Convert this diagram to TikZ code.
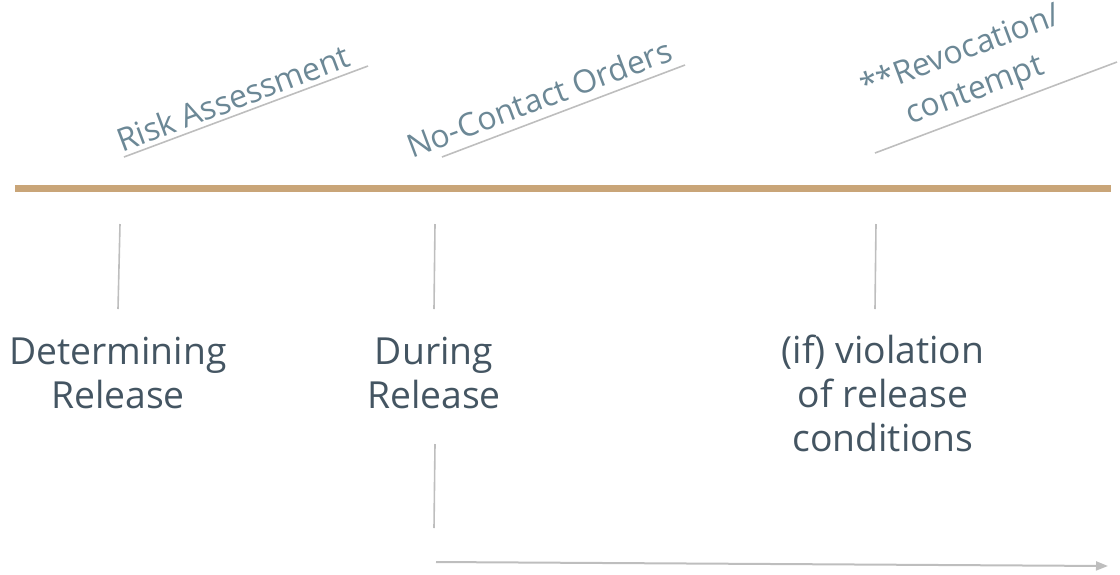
\documentclass[tikz,border=0pt]{standalone}
\usepackage{fontspec}
\setmainfont{Open Sans}
\usetikzlibrary{arrows.meta}
\definecolor{bartan}{RGB}{201,165,120}
\definecolor{maintext}{RGB}{68,85,98}
\definecolor{labeltext}{RGB}{108,136,150}
\definecolor{tick}{RGB}{190,190,190}
\tikzset{
  stagetext/.style={align=center,inner sep=0pt,anchor=base,text=maintext,font=\fontsize{37.3}{44}\selectfont},
  slanttext/.style={align=center,inner sep=0pt,anchor=center,text=labeltext,rotate=20.6,font=\fontsize{32}{41}\selectfont},
  tickline/.style={draw=tick,line width=1.6pt},
  underline/.style={draw=tick,line width=1.6pt},
  timebar/.style={draw=bartan,line width=7pt},
  flowarrow/.style={draw=tick,line width=2pt,-{Triangle[length=12pt,width=9pt]}}
}
\begin{document}
\begin{tikzpicture}[x=1pt,y=-1pt]
\useasboundingbox (0,0) rectangle (1120,574);
% timeline bar
\coordinate (barL) at (15,188.5);
\coordinate (barR) at (1111,188.5);
\draw[timebar] (barL) -- (barR);
% slanted labels with underlines
\coordinate (u1a) at (124,157); \coordinate (u1b) at (368,66);
\coordinate (u2a) at (442,157); \coordinate (u2b) at (685,65);
\coordinate (u3a) at (875,153); \coordinate (u3b) at (1117,62);
\draw[underline] (u1a) -- (u1b);
\draw[underline] (u2a) -- (u2b);
\draw[underline] (u3a) -- (u3b);
\node[slanttext] (risk) at (233,98) {Risk Assessment};
\node[slanttext] (nocontact) at (539,98) {No-Contact Orders};
\node[slanttext] (revoc) at (968,72) {**Revocation/\\contempt};
% ticks
\coordinate (t1a) at (120,224); \coordinate (t1b) at (118,309);
\coordinate (t2a) at (435,224); \coordinate (t2b) at (434,309);
\coordinate (t3a) at (876,224); \coordinate (t3b) at (875,309);
\draw[tickline] (t1a) -- (t1b);
\draw[tickline] (t2a) -- (t2b);
\draw[tickline] (t3a) -- (t3b);
% stage texts (anchor=base is the baseline of the last line)
\node[stagetext] (determ) at (118,408) {Determining\\Release};
\node[stagetext] (during) at (434,408) {During\\Release};
\node[stagetext] (viol) at (883,451) {(if) violation\\of release\\conditions};
% lower segment and arrow
\coordinate (t4a) at (435,444); \coordinate (t4b) at (434,528);
\draw[tickline] (t4a) -- (t4b);
\coordinate (arrA) at (436,562); \coordinate (arrB) at (1108,566);
\draw[flowarrow] (arrA) -- (arrB);
\end{tikzpicture}
\end{document}
